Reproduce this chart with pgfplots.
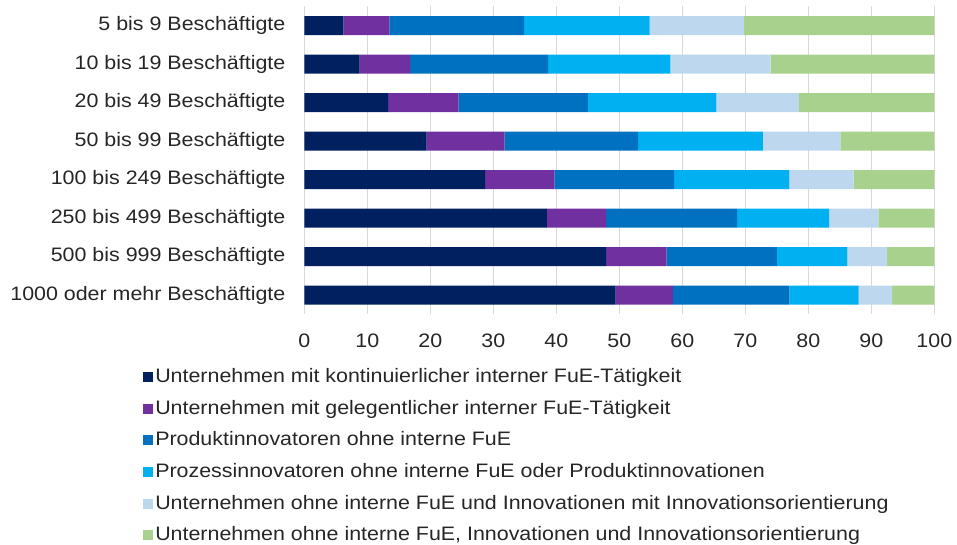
\documentclass[border=0pt]{standalone}
\usepackage{pgfplots}
\pgfplotsset{compat=1.18}
\usepackage{fontspec}
\setmainfont{Liberation Sans}[FakeStretch=1.1]
\definecolor{c1}{HTML}{002060}
\definecolor{c2}{HTML}{7030A0}
\definecolor{c3}{HTML}{0070C0}
\definecolor{c4}{HTML}{00B0F0}
\definecolor{c5}{HTML}{BDD7EE}
\definecolor{c6}{HTML}{A9D18E}
\definecolor{gridc}{HTML}{D9D9D9}
\begin{document}
\fontsize{14.6}{17}\selectfont
\begin{tikzpicture}
\useasboundingbox (-228.2pt,-172.3pt) rectangle (489.5pt,235.7pt);
\begin{axis}[
  at={(0,0)}, anchor=south west,
  scale only axis,
  width=472.5pt, height=230.9pt,
  xbar stacked, bar width=14.25pt,
  xmin=0, xmax=100, ymin=-0.5, ymax=7.5,
  y dir=reverse,
  xtick={0,10,...,100},
  ytick={0,...,7},
  yticklabels={5 bis 9 Beschäftigte,10 bis 19 Beschäftigte,20 bis 49 Beschäftigte,50 bis 99 Beschäftigte,100 bis 249 Beschäftigte,250 bis 499 Beschäftigte,500 bis 999 Beschäftigte,1000 oder mehr Beschäftigte},
  axis line style={draw=none},
  major tick length=0pt,
  xmajorgrids, grid style={gridc, line width=0.75pt},
  /pgf/number format/assume math mode=true,
  tick label style={font=\fontsize{14.6}{17}\selectfont, text=black!85},
  yticklabel style={inner sep=0pt, xshift=-14pt},
  xticklabel style={inner sep=0pt, yshift=-14.5pt},
  legend style={at={(-0.256,-0.168)}, anchor=north west, draw=none, fill=none,
    font=\fontsize{14.6}{17}\selectfont, text=black!85,
    cells={anchor=west}, row sep=8.0pt, inner sep=0pt,
    nodes={inner sep=1.5pt}},
  legend image code/.code={\fill[#1] (0pt,-3.75pt) rectangle (7.5pt,3.75pt);},
]
\addplot+[fill=c1, draw=none] coordinates {(6.2,0) (8.8,1) (13.3,2) (19.4,3) (28.7,4) (38.5,5) (47.9,6) (49.4,7)};
\addlegendentry{Unternehmen mit kontinuierlicher interner FuE-Tätigkeit}
\addplot+[fill=c2, draw=none] coordinates {(7.3,0) (8.0,1) (11.2,2) (12.4,3) (11.0,4) (9.4,5) (9.6,6) (9.1,7)};
\addlegendentry{Unternehmen mit gelegentlicher interner FuE-Tätigkeit}
\addplot+[fill=c3, draw=none] coordinates {(21.4,0) (21.9,1) (20.5,2) (21.2,3) (19.0,4) (20.8,5) (17.5,6) (18.5,7)};
\addlegendentry{Produktinnovatoren ohne interne FuE}
\addplot+[fill=c4, draw=none] coordinates {(19.9,0) (19.4,1) (20.4,2) (19.8,3) (18.3,4) (14.6,5) (11.2,6) (11.0,7)};
\addlegendentry{Prozessinnovatoren ohne interne FuE oder Produktinnovationen}
\addplot+[fill=c5, draw=none] coordinates {(15.0,0) (15.9,1) (13.1,2) (12.3,3) (10.2,4) (7.8,5) (6.3,6) (5.3,7)};
\addlegendentry{Unternehmen ohne interne FuE und Innovationen mit Innovationsorientierung}
\addplot+[fill=c6, draw=none] coordinates {(30.2,0) (26.0,1) (21.5,2) (14.9,3) (12.8,4) (8.9,5) (7.5,6) (6.7,7)};
\addlegendentry{{Unternehmen ohne interne FuE, Innovationen und Innovationsorientierung}}
\end{axis}
\end{tikzpicture}
\end{document}
